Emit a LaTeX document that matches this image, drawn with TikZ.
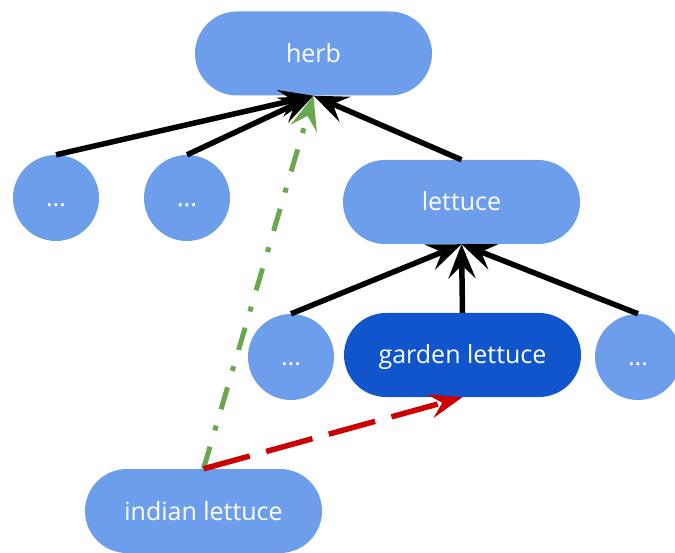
\documentclass[tikz,border=0pt]{standalone}
\usepackage{fontspec}
\setmainfont{Open Sans}
\usetikzlibrary{arrows.meta}
\definecolor{nodeblue}{HTML}{6D9EEB}
\definecolor{darkblue}{HTML}{1155CC}
\definecolor{isagreen}{HTML}{6AA84F}
\definecolor{simred}{HTML}{CC0000}
\begin{document}
\begin{tikzpicture}[x=1pt,y=-1pt,
  label text/.style={text=white, inner sep=0pt, text height=18pt, text depth=0pt,
    font=\fontsize{25}{30}\selectfont},
  pill/.style={rectangle, rounded corners=42pt, fill=nodeblue, draw=none,
    minimum width=237pt, minimum height=84pt, label text},
  dotnode/.style={circle, fill=nodeblue, draw=none, minimum size=86pt, label text},
  parentlink/.style={-{Stealth[length=34pt,width=27pt,inset=13pt]}, line width=5.5pt, black},
  isalink/.style={-{Stealth[length=34pt,width=27pt,inset=13pt]}, line width=5pt, isagreen,
    dash pattern=on 23pt off 17pt on 5pt off 17pt},
  simlink/.style={-{Stealth[length=33pt,width=24pt,inset=12pt]}, line width=5.5pt, simred,
    dash pattern=on 48pt off 17pt}]
\useasboundingbox (0,0) rectangle (675,553);

% nodes
\node[pill] (herb) at (313.5,53.5) {herb};
\node[dotnode] (d1) at (56,198) {...};
\node[dotnode] (d2) at (187,198) {...};
\node[pill] (lettuce) at (461.5,202) {lettuce};
\node[dotnode] (d3) at (291,357) {...};
\node[pill, fill=darkblue] (garden) at (462.5,355) {garden lettuce};
\node[dotnode] (d4) at (638,357) {...};
\node[pill] (indian) at (203.5,511) {indian lettuce};

% hierarchy links
\draw[parentlink] (d1.north) -- (herb.south);
\draw[parentlink] (d2.north) -- (herb.south);
\draw[parentlink] (lettuce.north) -- (herb.south);
\draw[parentlink] (d3.north) -- (lettuce.south);
\draw[parentlink] (garden.north) -- (lettuce.south);
\draw[parentlink] (d4.north) -- (lettuce.south);

% links from indian lettuce
\draw[isalink] (indian.north) -- (herb.south);
\draw[simlink] (indian.north) -- (garden.south);
\end{tikzpicture}
\end{document}
